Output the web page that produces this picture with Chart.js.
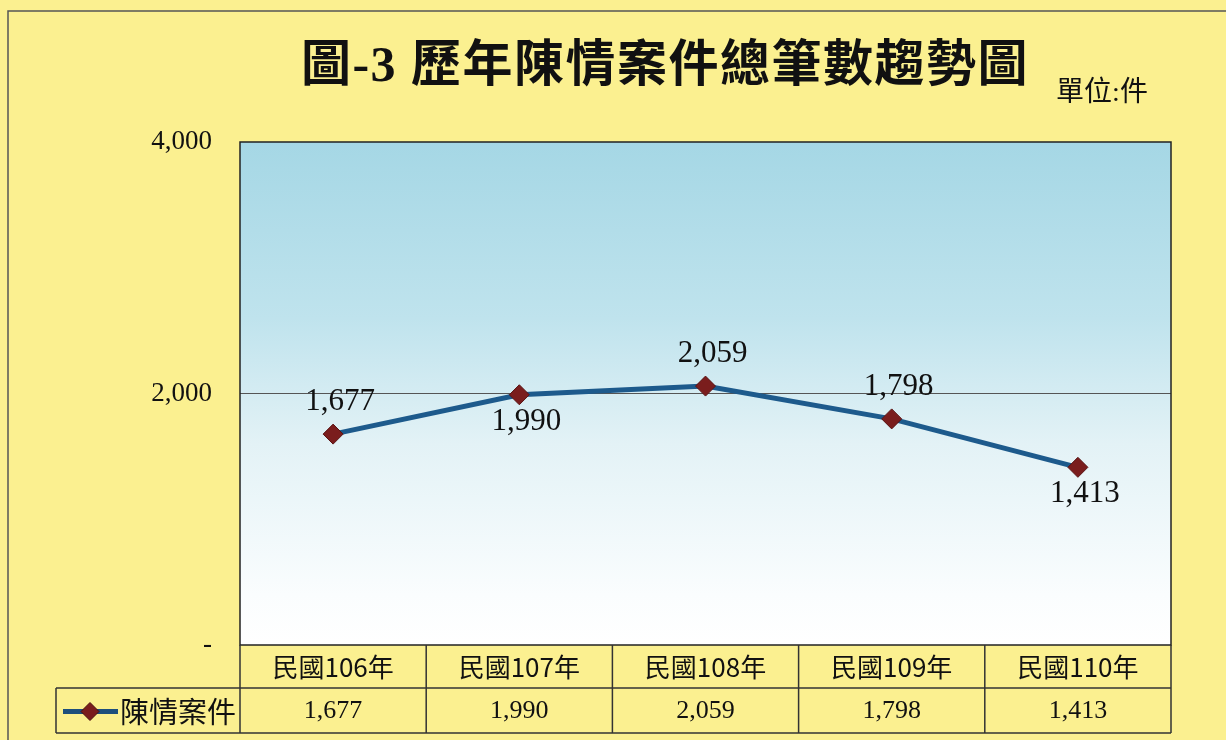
<!DOCTYPE html>
<html>
<head>
<meta charset="utf-8">
<script src="https://cdn.jsdelivr.net/npm/chart.js@4.4.1/dist/chart.umd.min.js"></script>
<style>
  html, body { margin: 0; padding: 0; background: #fbf090; }
  #wrap { width: 1226px; height: 740px; }
</style>
</head>
<body>
<div id="wrap"><canvas id="myChart" width="1226" height="740"></canvas></div>
<script>
const years = ['民國106年', '民國107年', '民國108年', '民國109年', '民國110年'];
const cases = [1677, 1990, 2059, 1798, 1413];
const yTicks = [0, 2000, 4000];
const seriesName = '陳情案件';
const titleText = '圖-3 歷年陳情案件總筆數趨勢圖';
const unitText = '單位:件';

const serif = '"Liberation Serif", "Noto Sans CJK TC", serif';
const fmt = v => v.toLocaleString('en-US');

// label above or below each point, as in the original
const labelPos = ['up', 'down', 'up', 'up', 'down'];

const framePlugin = {
  id: 'frame',
  beforeDraw(chart) {
    const { ctx, chartArea: a } = chart;
    ctx.save();
    ctx.fillStyle = '#fbf090';
    ctx.fillRect(0, 0, chart.width, chart.height);
    // outer border
    ctx.strokeStyle = '#555';
    ctx.lineWidth = 1.5;
    ctx.strokeRect(8, 11, 1240, 760);
    // plot gradient
    const g = ctx.createLinearGradient(0, a.top, 0, a.bottom);
    g.addColorStop(0, '#a5d7e5');
    g.addColorStop(0.35, '#bfe3ed');
    g.addColorStop(0.6, '#e3f2f6');
    g.addColorStop(0.9, '#fafdfe');
    g.addColorStop(1, '#ffffff');
    ctx.fillStyle = g;
    ctx.fillRect(a.left, a.top, a.right - a.left, a.bottom - a.top);
    ctx.restore();
  },
  afterDatasetsDraw(chart) {
    const { ctx, chartArea: a, scales } = chart;
    ctx.save();
    // plot border
    ctx.strokeStyle = '#222';
    ctx.lineWidth = 1.5;
    ctx.strokeRect(a.left, a.top, a.right - a.left, a.bottom - a.top);

    // titles
    ctx.fillStyle = '#111';
    ctx.textAlign = 'center';
    ctx.textBaseline = 'middle';
    ctx.font = 'bold 50px ' + serif;
    ctx.letterSpacing = '1.5px';
    ctx.fillText(titleText, 665, 68);
    ctx.letterSpacing = '0px';
    ctx.font = '28px ' + serif;
    ctx.fillText(unitText, 1102, 94);

    // data labels
    const meta = chart.getDatasetMeta(0);
    ctx.font = '31px ' + serif;
    meta.data.forEach((pt, i) => {
      const dy = labelPos[i] === 'up' ? -32 : 27;
      ctx.fillText(fmt(cases[i]), pt.x + 7, pt.y + dy);
    });

    // data table
    const rowTop = a.bottom;
    const rowMid = 688;
    const rowBot = 733;
    const legendLeft = 56;
    const step = (a.right - a.left) / years.length;
    ctx.strokeStyle = '#333';
    ctx.lineWidth = 1.5;
    ctx.beginPath();
    ctx.moveTo(legendLeft, rowMid); ctx.lineTo(a.right, rowMid);
    ctx.moveTo(legendLeft, rowBot); ctx.lineTo(a.right, rowBot);
    ctx.moveTo(legendLeft, rowMid); ctx.lineTo(legendLeft, rowBot);
    for (let i = 0; i <= years.length; i++) {
      const x = a.left + step * i;
      ctx.moveTo(x, rowTop); ctx.lineTo(x, rowBot);
    }
    ctx.stroke();

    const valY = (rowMid + rowBot) / 2 + 1;
    ctx.fillStyle = '#111';
    ctx.font = '26px ' + serif;
    cases.forEach((v, i) => {
      ctx.fillText(fmt(v), scales.x.getPixelForValue(i), valY);
    });

    // legend key
    ctx.strokeStyle = '#1d4f7c';
    ctx.lineWidth = 5;
    ctx.beginPath();
    ctx.moveTo(63, valY); ctx.lineTo(118, valY);
    ctx.stroke();
    ctx.fillStyle = '#7a1d1d';
    ctx.strokeStyle = '#4a1010';
    ctx.lineWidth = 1;
    ctx.beginPath();
    ctx.moveTo(90, valY - 9); ctx.lineTo(99, valY); ctx.lineTo(90, valY + 9); ctx.lineTo(81, valY);
    ctx.closePath();
    ctx.fill(); ctx.stroke();
    ctx.fillStyle = '#111';
    ctx.textAlign = 'left';
    ctx.font = '29px "Noto Sans CJK TC", sans-serif';
    ctx.fillText(seriesName, 120, valY);
    ctx.restore();
  }
};

const canvas = document.getElementById('myChart');
const ctx = canvas.getContext('2d');

new Chart(ctx, {
  type: 'line',
  data: {
    labels: years,
    datasets: [{
      label: seriesName,
      data: cases,
      borderColor: '#1d5a8c',
      borderWidth: 5,
      pointStyle: 'rectRot',
      pointRadius: 10,
      pointHoverRadius: 10,
      pointBackgroundColor: '#7a1d1d',
      pointBorderColor: '#5a1414',
      pointBorderWidth: 1,
      tension: 0
    }]
  },
  options: {
    responsive: false,
    animation: false,
    layout: { padding: { top: 142, right: 55, left: 0, bottom: 0 } },
    plugins: {
      legend: { display: false },
      tooltip: { enabled: false },
      title: { display: false }
    },
    scales: {
      x: {
        offset: true,
        grid: { display: false, drawTicks: false },
        border: { display: false },
        afterFit: s => { s.height = 95; },
        ticks: {
          padding: 7,
          color: '#111',
          font: { size: 26, family: '"Noto Sans CJK TC", sans-serif' }
        }
      },
      y: {
        min: 0,
        max: 4000,
        afterFit: s => { s.width = 240; },
        afterBuildTicks: s => { s.ticks = yTicks.map(v => ({ value: v })); },
        grid: {
          drawTicks: false,
          color: ctx => (ctx.tick && ctx.tick.value === 2000 ? '#555' : 'rgba(0,0,0,0)'),
          lineWidth: 1
        },
        border: { display: false },
        ticks: {
          padding: 28,
          color: '#111',
          font: { size: 27, family: serif },
          callback: v => (v === 0 ? '-' : fmt(v))
        }
      }
    }
  },
  plugins: [framePlugin]
});
</script>
</body>
</html>
